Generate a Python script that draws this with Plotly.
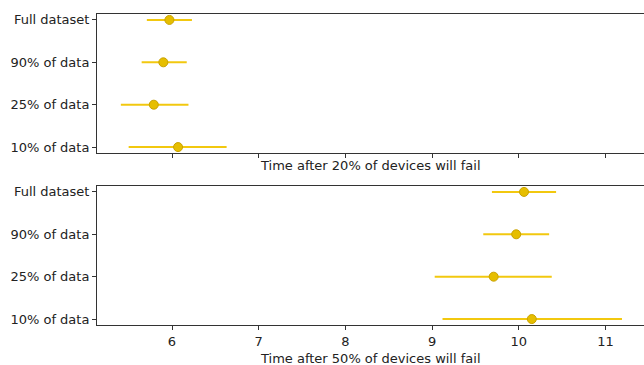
import plotly.graph_objects as go
from plotly.subplots import make_subplots

categories = ["10% of data", "25% of data", "90% of data", "Full dataset"]

# Time after 20% of devices will fail
t20_mid = [6.07, 5.79, 5.90, 5.97]
t20_low = [5.50, 5.41, 5.65, 5.71]
t20_high = [6.63, 6.19, 6.17, 6.23]

# Time after 50% of devices will fail
t50_mid = [10.15, 9.71, 9.97, 10.06]
t50_low = [9.12, 9.03, 9.59, 9.69]
t50_high = [11.19, 10.38, 10.35, 10.43]

x_titles = ["Time after 20% of devices will fail", "Time after 50% of devices will fail"]
x_ticks = [6, 7, 8, 9, 10, 11]

LINE = "#f2c80f"
FILL = "#e6be00"
EDGE = "#c9a200"
FONT = "DejaVu Sans"
FS = 13

fig = make_subplots(rows=2, cols=1, shared_xaxes=False, vertical_spacing=0.1)

for i, (mid, lo, hi) in enumerate([(t20_mid, t20_low, t20_high), (t50_mid, t50_low, t50_high)]):
    fig.add_trace(go.Scatter(
        x=mid, y=categories, mode="markers",
        marker=dict(size=9, color=FILL, line=dict(color=EDGE, width=1)),
        error_x=dict(type="data", symmetric=False,
                     array=[h - m for h, m in zip(hi, mid)],
                     arrayminus=[m - l for m, l in zip(mid, lo)],
                     color=LINE, thickness=2, width=0),
        showlegend=False,
    ), row=i + 1, col=1)

xr = [5.135, 11.444]
common_x = dict(range=xr, tickvals=x_ticks, ticks="outside", ticklen=4, tickcolor="#333",
                showline=True, linecolor="#333", linewidth=1, mirror=True, showgrid=False,
                zeroline=False, tickfont=dict(size=FS, color="#222", family=FONT))
common_y = dict(type="category", categoryorder="array", categoryarray=categories,
                range=[-0.14, 3.14], ticks="outside", ticklen=4, tickcolor="#333",
                showline=True, linecolor="#333", linewidth=1, showgrid=False, zeroline=False,
                tickfont=dict(size=FS, color="#222", family=FONT))

fig.update_xaxes(**common_x, showticklabels=False, domain=[0, 1], row=1, col=1)
fig.update_xaxes(**common_x, showticklabels=True, domain=[0, 1], row=2, col=1)
fig.update_yaxes(**common_y, domain=[0.553, 1.0], row=1, col=1)
fig.update_yaxes(**common_y, domain=[0.0, 0.447], row=2, col=1)

fig.add_annotation(text=x_titles[0], xref="paper", yref="paper", x=0.5, y=0.553, yshift=-12,
                   showarrow=False, yanchor="middle", font=dict(size=FS, color="#222", family=FONT))
fig.add_annotation(text=x_titles[1], xref="paper", yref="paper", x=0.5, y=0.0, yshift=-33,
                   showarrow=False, yanchor="middle", font=dict(size=FS, color="#222", family=FONT))

fig.update_layout(width=644, height=365, margin=dict(l=97, r=0, t=14, b=40),
                  plot_bgcolor="white", paper_bgcolor="white", hovermode=False,
                  font=dict(family=FONT, size=FS, color="#222"))

fig.write_html("out.html", config={"displayModeBar": False, "staticPlot": True},
               post_script="document.body.style.margin='0';document.body.style.overflow='hidden';")
